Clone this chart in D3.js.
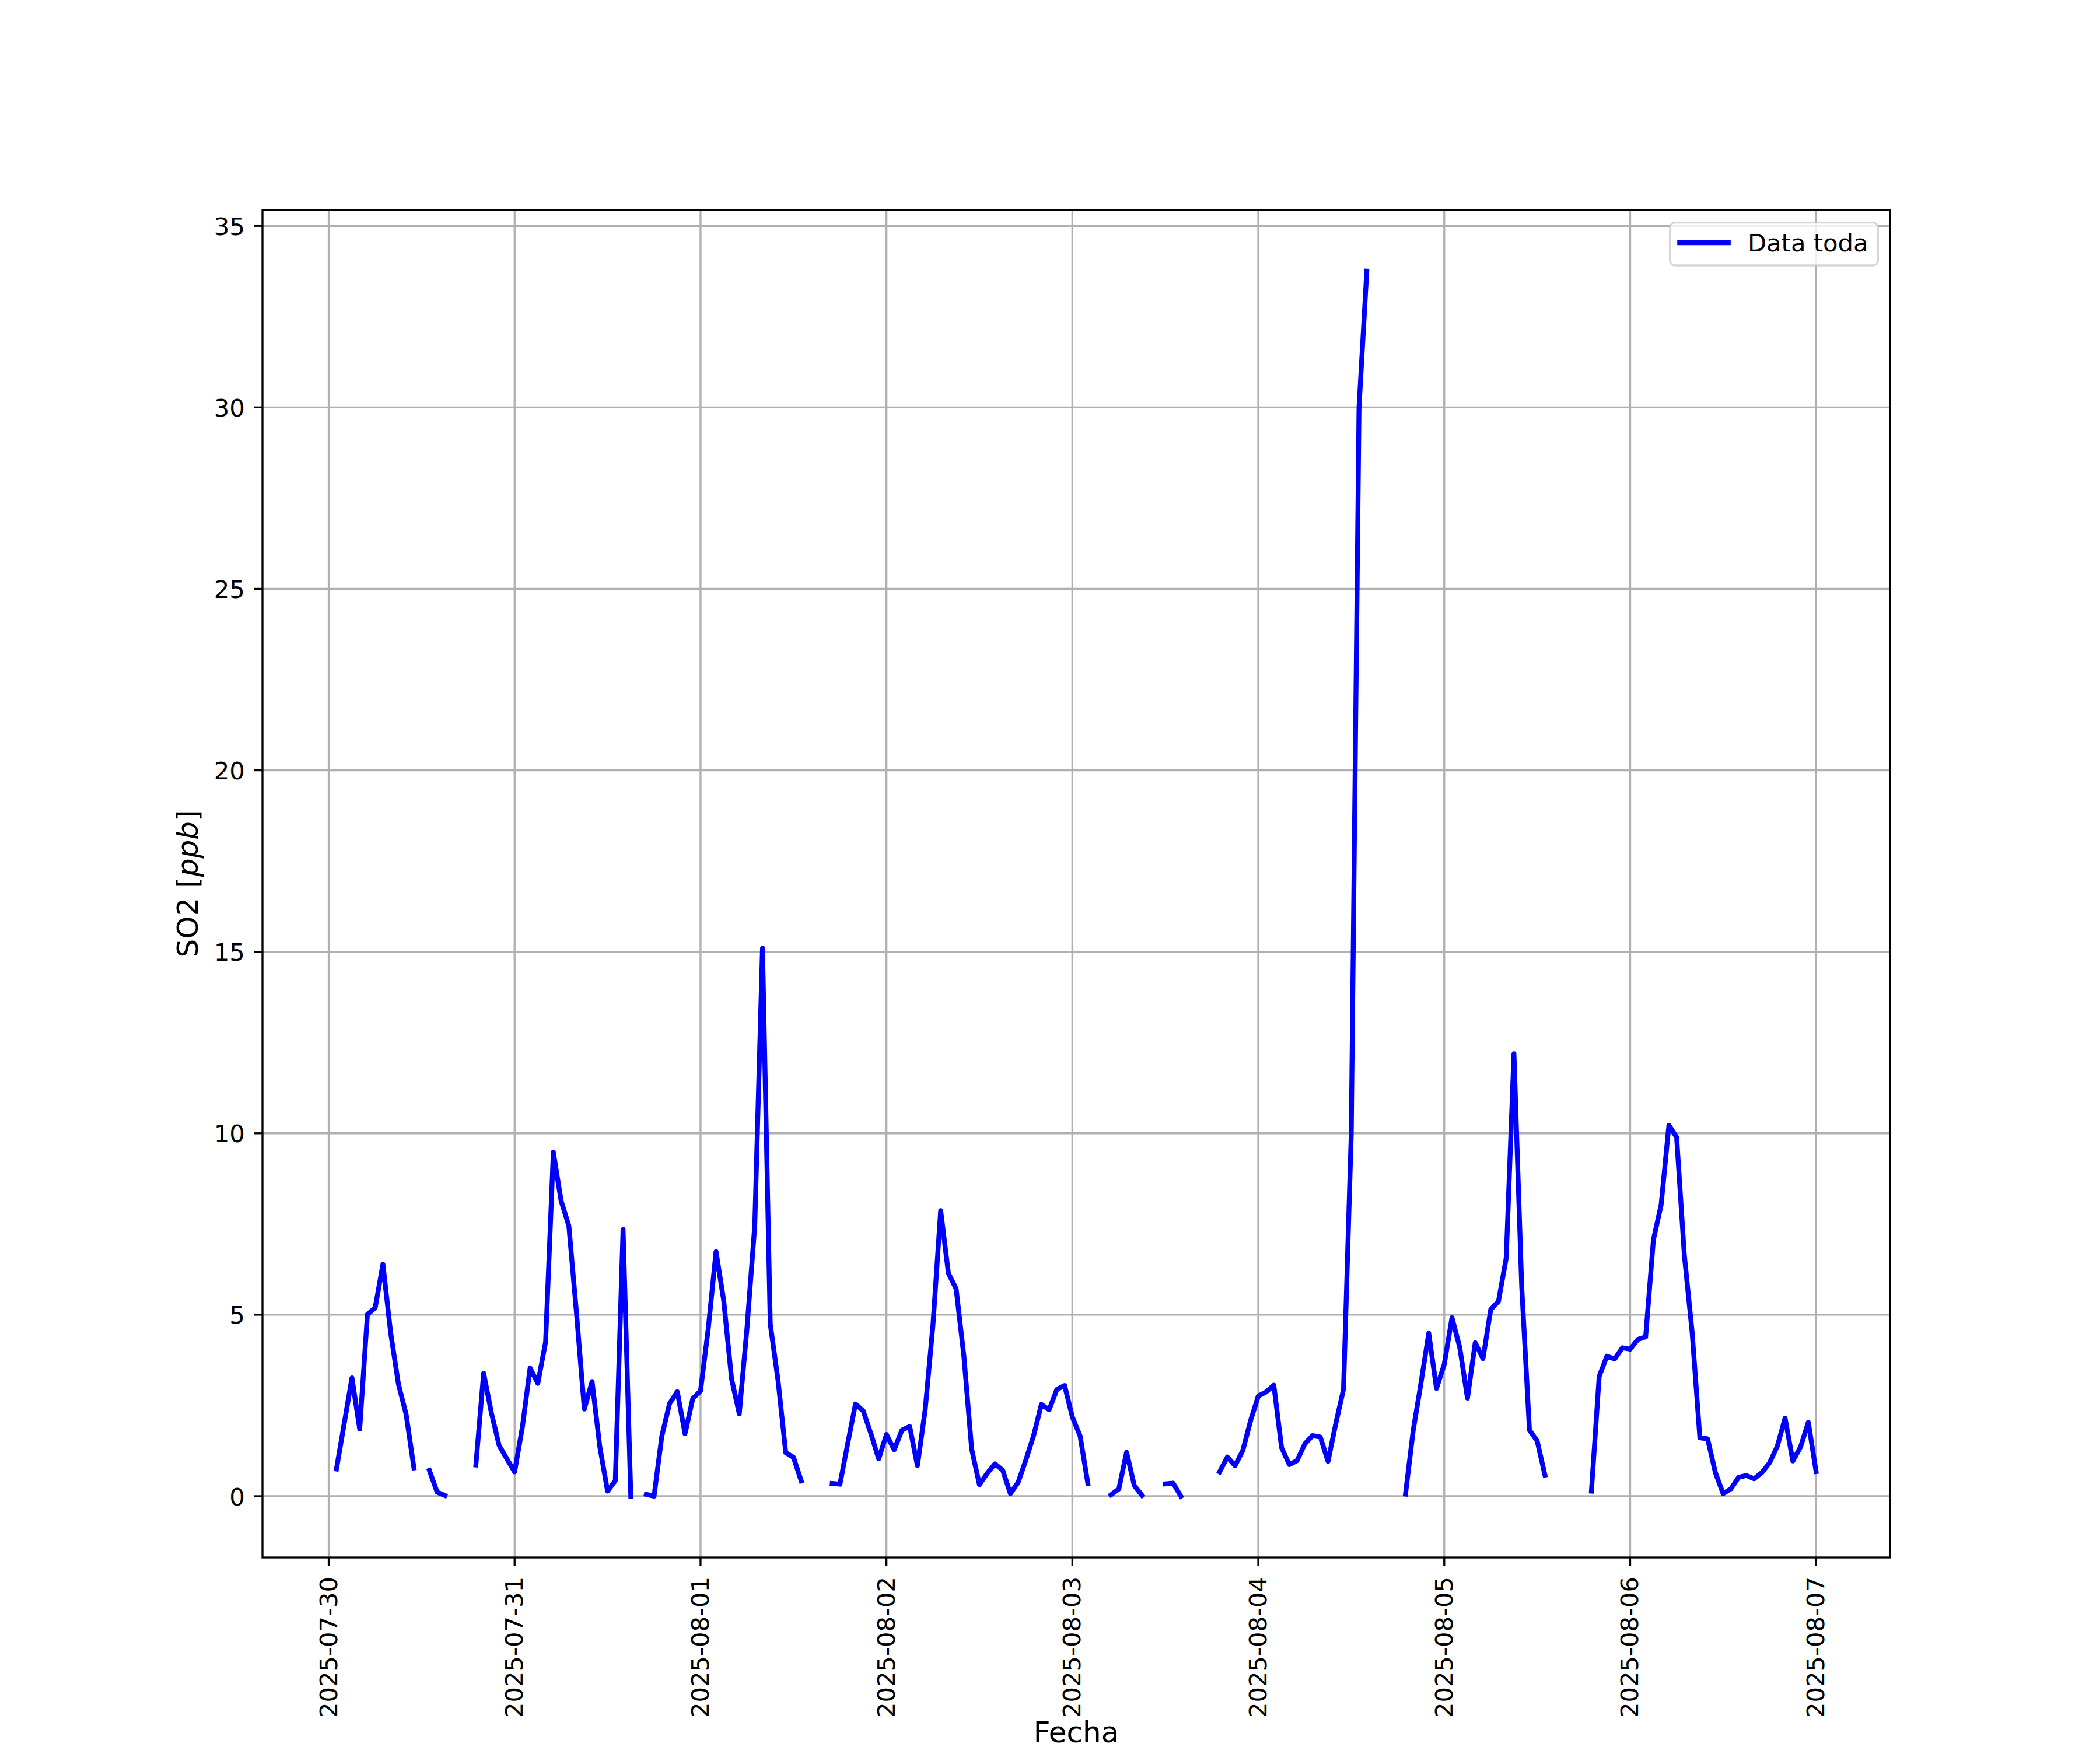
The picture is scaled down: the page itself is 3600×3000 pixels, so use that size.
<!DOCTYPE html>
<html><head><meta charset="utf-8">
<script src="https://cdn.jsdelivr.net/npm/d3@7"></script>
<style>html,body{margin:0;padding:0;background:#fff;} svg{display:block;}</style>
</head><body>
<svg id="chart" width="3600" height="3000"></svg>
<script>
// ---------- DATA ----------
const startTime = "2025-07-30T01:00:00Z";   // first hourly sample
const so2Values = [
  0.75, 2.0, 3.26, 1.85, 5.01, 5.19, 6.39, 4.5, 3.09, 2.25, 0.78, null,
  0.71, 0.11, 0.02, null, null, null, 0.86, 3.39, 2.3, 1.4, 1.03, 0.67,
  1.9, 3.53, 3.11, 4.25, 9.48, 8.14, 7.45, 5.02, 2.4, 3.16, 1.36, 0.14,
  0.43, 7.35, 0.0, null, 0.05, 0.0, 1.65, 2.55, 2.88, 1.72, 2.69, 2.9,
  4.62, 6.74, 5.38, 3.24, 2.27, 4.64, 7.46, 15.1, 4.75, 3.2, 1.2, 1.07,
  0.42, null, null, null, 0.35, 0.33, 1.45, 2.54, 2.35, 1.72, 1.03, 1.7,
  1.28, 1.82, 1.92, 0.84, 2.38, 4.71, 7.87, 6.14, 5.71, 3.85, 1.3, 0.32,
  0.63, 0.89, 0.72, 0.07, 0.38, 1.0, 1.67, 2.53, 2.38, 2.94, 3.05, 2.18,
  1.66, 0.35, null, null, 0.04, 0.2, 1.21, 0.29, 0.02, null, null, 0.34,
  0.36, 0.0, null, null, null, null, 0.67, 1.08, 0.84, 1.26, 2.08, 2.76,
  2.87, 3.06, 1.34, 0.87, 0.98, 1.44, 1.67, 1.63, 0.96, 2.0, 2.95, 10.0,
  30.0, 33.75, null, null, null, null, 0.06, 1.82, 3.12, 4.49, 2.97, 3.63,
  4.92, 4.1, 2.7, 4.23, 3.79, 5.14, 5.37, 6.56, 12.19, 5.78, 1.82, 1.52,
  0.58, null, null, null, null, null, 0.14, 3.3, 3.86, 3.78, 4.09, 4.05,
  4.32, 4.39, 7.06, 8.03, 10.22, 9.89, 6.63, 4.52, 1.61, 1.58, 0.65, 0.07,
  0.2, 0.52, 0.57, 0.48, 0.65, 0.92, 1.38, 2.15, 0.97, 1.36, 2.04, 0.68
];
const xTickLabels = ["2025-07-30","2025-07-31","2025-08-01","2025-08-02","2025-08-03",
                     "2025-08-04","2025-08-05","2025-08-06","2025-08-07"];
const yTicks = [0, 5, 10, 15, 20, 25, 30, 35];
const seriesName = "Data toda";
const xLabelText = "Fecha";

// ---------- LAYOUT ----------
const W = 3600, H = 3000;
const L = 450, R = 3240, T = 360, B = 2670;
const FONT = "DejaVu Sans";
const tickFs = 41.67, labelFs = 50;
const thin = 3.33, tickLen = 14.58;
const lineW = 8.33;

const t0 = new Date(startTime).getTime();
const data = so2Values.map((v, i) => ({t: new Date(t0 + i * 3600e3), v}));
const valid = data.filter(d => d.v != null);

const xExt = d3.extent(valid, d => d.t.getTime());
const xPad = (xExt[1] - xExt[0]) * 0.05;
const x = d3.scaleUtc().domain([new Date(xExt[0] - xPad), new Date(xExt[1] + xPad)]).range([L, R]);
const yExt = d3.extent(valid, d => d.v);
const yPad = (yExt[1] - yExt[0]) * 0.05;
const y = d3.scaleLinear().domain([yExt[0] - yPad, yExt[1] + yPad]).range([B, T]);

const svg = d3.select("#chart");
svg.append("rect").attr("width", W).attr("height", H).attr("fill", "#fff");

const xTickDates = xTickLabels.map(s => new Date(s + "T00:00:00Z"));

// grid
const g = svg.append("g");
g.selectAll("line.gx").data(xTickDates).join("line")
  .attr("x1", d => x(d)).attr("x2", d => x(d)).attr("y1", T).attr("y2", B)
  .attr("stroke", "#b0b0b0").attr("stroke-width", thin);
g.selectAll("line.gy").data(yTicks).join("line")
  .attr("x1", L).attr("x2", R).attr("y1", d => y(d)).attr("y2", d => y(d))
  .attr("stroke", "#b0b0b0").attr("stroke-width", thin);

// clip
svg.append("clipPath").attr("id", "clip").append("rect")
  .attr("x", L).attr("y", T).attr("width", R - L).attr("height", B - T);

// line
const line = d3.line().defined(d => d.v != null).x(d => x(d.t)).y(d => y(d.v));
svg.append("path").datum(data).attr("d", line)
  .attr("clip-path", "url(#clip)")
  .attr("fill", "none").attr("stroke", "#0000ff").attr("stroke-width", lineW)
  .attr("stroke-linejoin", "round").attr("stroke-linecap", "square");

// spines
svg.append("rect").attr("x", L).attr("y", T).attr("width", R - L).attr("height", B - T)
  .attr("fill", "none").attr("stroke", "#000").attr("stroke-width", thin);

// x ticks
const xt = svg.append("g");
xt.selectAll("line").data(xTickDates).join("line")
  .attr("x1", d => x(d)).attr("x2", d => x(d)).attr("y1", B).attr("y2", B + tickLen)
  .attr("stroke", "#000").attr("stroke-width", thin);
xt.selectAll("text").data(xTickDates).join("text")
  .attr("transform", d => `translate(${x(d) + 14},${B + 33}) rotate(-90)`)
  .attr("text-anchor", "end").attr("font-family", FONT).attr("font-size", tickFs)
  .attr("fill", "#000").text((d, i) => xTickLabels[i]);

// y ticks
const yt = svg.append("g");
yt.selectAll("line").data(yTicks).join("line")
  .attr("x1", L - tickLen).attr("x2", L).attr("y1", d => y(d)).attr("y2", d => y(d))
  .attr("stroke", "#000").attr("stroke-width", thin);
yt.selectAll("text").data(yTicks).join("text")
  .attr("x", L - 2 * tickLen - 1).attr("y", d => y(d) + 15.5)
  .attr("text-anchor", "end").attr("font-family", FONT).attr("font-size", tickFs)
  .attr("fill", "#000").text(d => d);

// axis labels
svg.append("text").attr("x", (L + R) / 2).attr("y", 2987)
  .attr("text-anchor", "middle").attr("font-family", FONT).attr("font-size", labelFs)
  .attr("fill", "#000").text(xLabelText);
const yl = svg.append("text")
  .attr("transform", `translate(339,${(T + B) / 2}) rotate(-90)`)
  .attr("text-anchor", "middle").attr("font-family", FONT).attr("font-size", labelFs)
  .attr("fill", "#000");
yl.append("tspan").text("SO2 [");
yl.append("tspan").attr("font-style", "italic").text("ppb");
yl.append("tspan").text("]");

// legend
const lg = svg.append("g");
lg.append("rect").attr("x", 2862.7).attr("y", 381.7).attr("width", 356.6).attr("height", 73.3)
  .attr("rx", 8.3).attr("ry", 8.3)
  .attr("fill", "#fff").attr("fill-opacity", 0.8)
  .attr("stroke", "#cccccc").attr("stroke-opacity", 0.8).attr("stroke-width", thin);
lg.append("line").attr("x1", 2879.4).attr("x2", 2962.7).attr("y1", 416).attr("y2", 416)
  .attr("stroke", "#0000ff").attr("stroke-width", lineW).attr("stroke-linecap", "square");
lg.append("text").attr("x", 2996).attr("y", 431).attr("font-family", FONT)
  .attr("font-size", tickFs).attr("fill", "#000").text(seriesName);
</script>
</body></html>
